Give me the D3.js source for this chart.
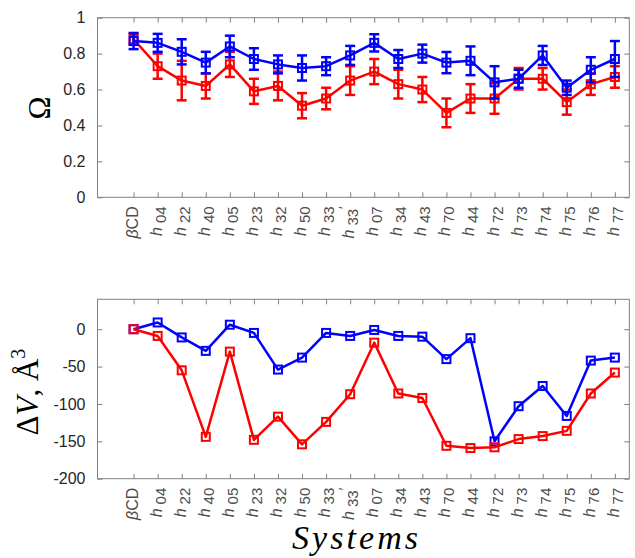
<!DOCTYPE html>
<meta charset="utf-8">
<style>
    body { margin: 0; background: #fff; }
    .tick text { font: 16px "Liberation Sans", Arial, sans-serif; fill: #262626; }
    .tick line { stroke: #808080; }
    .frame { fill: none; stroke: #808080; stroke-width: 1; }
    .xlab { font: 16px "Liberation Sans", Arial, sans-serif; fill: #4d4d4d; }
    .series { fill: none; stroke-width: 2.5; stroke-linejoin: round; }
    .ylabel { font: 31px "Liberation Serif", "DejaVu Serif", serif; fill: #000; }
</style>
<body>
<script src="https://cdn.jsdelivr.net/npm/d3@7/dist/d3.min.js"></script>
<script>
    // categories
    var systems = ["βCD", "h04", "h22", "h40", "h05", "h23", "h32", "h50", "h33", "h33'",
        "h07", "h34", "h43", "h70", "h44", "h72", "h73", "h74", "h75", "h76", "h77"];

    // top panel: Omega with error bars
    var omegaBlue = [0.87, 0.86, 0.81, 0.75, 0.84, 0.77, 0.74, 0.72, 0.73, 0.79,
        0.86, 0.77, 0.80, 0.75, 0.76, 0.64, 0.66, 0.79, 0.61, 0.71, 0.77];
    var omegaBlueErr = [0.045, 0.05, 0.07, 0.06, 0.06, 0.06, 0.05, 0.07, 0.05, 0.053,
        0.048, 0.05, 0.05, 0.059, 0.08, 0.09, 0.05, 0.053, 0.04, 0.07, 0.10];
    var omegaRed = [0.88, 0.73, 0.65, 0.62, 0.74, 0.59, 0.62, 0.51, 0.55, 0.65,
        0.70, 0.63, 0.60, 0.47, 0.55, 0.55, 0.66, 0.66, 0.53, 0.63, 0.67];
    var omegaRedErr = [0.03, 0.07, 0.11, 0.07, 0.07, 0.07, 0.08, 0.07, 0.06, 0.08,
        0.07, 0.08, 0.07, 0.08, 0.08, 0.085, 0.06, 0.06, 0.07, 0.06, 0.06];

    // bottom panel: Delta V
    var dvBlue = [0, 9, -11, -29, 6, -5, -54, -38, -5, -9,
        -1, -9, -10, -40, -12, -150, -103, -76, -116, -42, -38];
    var dvRed = [0, -9, -55, -144, -30, -148, -117, -154, -124, -87,
        -18, -86, -92, -156, -159, -158, -147, -143, -136, -86, -58];

    var omegaTicks = [0, 0.2, 0.4, 0.6, 0.8, 1];
    var dvTicks = [-200, -150, -100, -50, 0];

    var width = 635, height = 558;
    var svg = d3.select("body").append("svg")
        .attr("width", width)
        .attr("height", height);

    var x = d3.scaleLinear().domain([-1.5, 20.6]).range([97.5, 629.3]);
    var idx = d3.range(systems.length);

    function panel(top, bottom, domain, ticks, series, errs) {
        var y = d3.scaleLinear().domain(domain).range([bottom, top]);
        var g = svg.append("g");
        var fmt = function (d) { return String(+d.toFixed(1)); };

        g.append("g").attr("transform", "translate(" + x.range()[0] + ",0)")
            .call(d3.axisLeft(y).tickValues(ticks).tickSize(-5).tickPadding(12).tickFormat(fmt));
        g.append("g").attr("transform", "translate(" + x.range()[1] + ",0)")
            .call(d3.axisRight(y).tickValues(ticks).tickSize(-5).tickFormat(""));
        g.append("g").attr("transform", "translate(0," + bottom + ")")
            .call(d3.axisBottom(x).tickValues(idx).tickSize(-5).tickFormat(""));
        g.append("g").attr("transform", "translate(0," + top + ")")
            .call(d3.axisTop(x).tickValues(idx).tickSize(-5).tickFormat(""));
        g.selectAll(".domain").remove();
        g.append("rect").attr("class", "frame")
            .attr("x", x.range()[0]).attr("y", top)
            .attr("width", x.range()[1] - x.range()[0]).attr("height", bottom - top);

        var line = d3.line().x(function (d, i) { return x(i); }).y(function (d) { return y(d); });

        series.forEach(function (s, k) {
            var sg = g.append("g").attr("stroke", s.color);
            var e = errs ? errs[k] : null;
            if (e) {
                var eb = sg.selectAll(".eb").data(s.values).enter().append("g");
                eb.append("line")
                    .attr("x1", function (d, i) { return x(i); })
                    .attr("x2", function (d, i) { return x(i); })
                    .attr("y1", function (d, i) { return y(d - e[i]); })
                    .attr("y2", function (d, i) { return y(d + e[i]); })
                    .attr("stroke-width", 2.5);
                [-1, 1].forEach(function (sgn) {
                    eb.append("line")
                        .attr("x1", function (d, i) { return x(i) - 5; })
                        .attr("x2", function (d, i) { return x(i) + 5; })
                        .attr("y1", function (d, i) { return y(d + sgn * e[i]); })
                        .attr("y2", function (d, i) { return y(d + sgn * e[i]); })
                        .attr("stroke-width", 2.5);
                });
            }
            sg.append("path").attr("class", "series").attr("d", line(s.values));
            sg.selectAll("rect").data(s.values).enter().append("rect")
                .attr("x", function (d, i) { return x(i) - 4; })
                .attr("y", function (d) { return y(d) - 4; })
                .attr("width", 8).attr("height", 8)
                .attr("fill", "none").attr("stroke-width", 2);
        });

        // rotated category labels
        var lab = g.append("g").selectAll("text").data(systems).enter().append("text")
            .attr("class", "xlab")
            .attr("text-anchor", "end")
            .attr("transform", function (d, i) { return "translate(" + (x(i) + 4) + "," + (bottom + 9) + ") rotate(-90)"; });
        lab.each(function (d) {
            var t = d3.select(this);
            if (d === "βCD") {
                t.append("tspan").attr("font-style", "italic").text("β");
                t.append("tspan").text("CD");
            } else {
                var sub = d.slice(1).replace("'", "");
                t.append("tspan").attr("font-style", "italic").text("h");
                t.append("tspan").attr("dx", 4).attr("dy", 4).attr("font-size", 15).text(sub);
                if (d.indexOf("'") >= 0) {
                    t.append("tspan").attr("dy", -9).attr("font-size", 14).text("′");
                }
            }
        });
        return y;
    }

    panel(17.7, 197.3, [0, 1], omegaTicks,
        [{ color: "#ff0000", values: omegaRed }, { color: "#0000ff", values: omegaBlue }],
        [omegaRedErr, omegaBlueErr]);

    panel(299.3, 478.7, [-200, 40], dvTicks,
        [{ color: "#0000ff", values: dvBlue }, { color: "#ff0000", values: dvRed }],
        null);

    // axis titles
    svg.append("text").attr("class", "ylabel")
        .attr("text-anchor", "middle")
        .attr("transform", "translate(50,108) rotate(-90)")
        .text("Ω");

    var dv = svg.append("text").attr("class", "ylabel")
        .attr("text-anchor", "middle")
        .attr("transform", "translate(38,392) rotate(-90)");
    dv.append("tspan").text("Δ");
    dv.append("tspan").attr("font-style", "italic").text("V");
    dv.append("tspan").text(", Å");
    dv.append("tspan").attr("font-size", 20).attr("dy", -13).text("3");

    svg.append("text")
        .attr("x", 355).attr("y", 549)
        .attr("text-anchor", "middle")
        .attr("textLength", 126)
        .attr("lengthAdjust", "spacing")
        .style("font", "italic 34px 'Liberation Serif', serif")
        .text("Systems");
</script>
</body>
